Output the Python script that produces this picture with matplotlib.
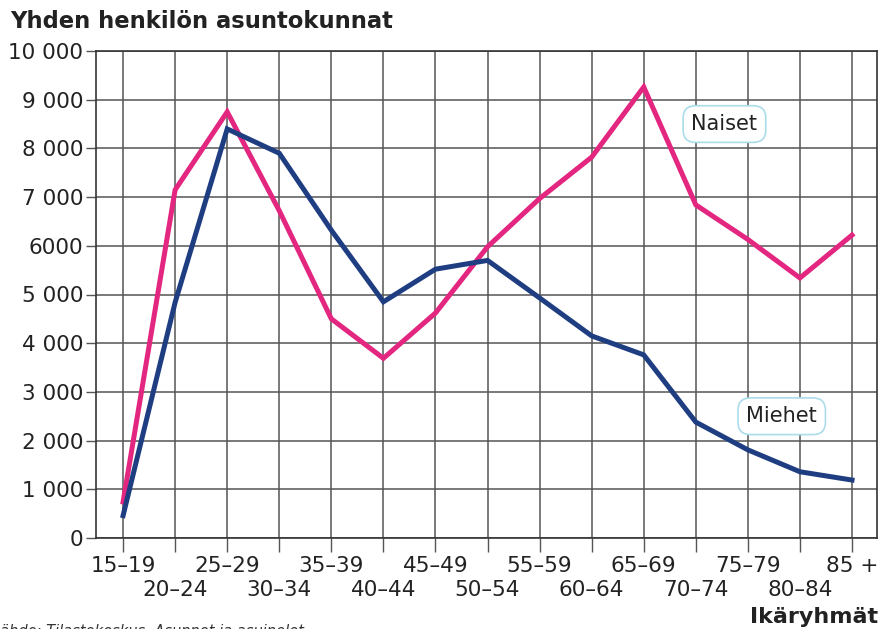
import matplotlib

matplotlib.use("Agg")
import matplotlib.pyplot as plt
import numpy as np

# Ikäryhmät ja yhden henkilön asuntokunnat
age_groups = ["15–19", "20–24", "25–29", "30–34", "35–39", "40–44", "45–49",
              "50–54", "55–59", "60–64", "65–69", "70–74", "75–79", "80–84", "85 +"]
naiset = [740, 7150, 8750, 6720, 4500, 3690, 4620, 5980, 6970, 7820,
          9260, 6840, 6130, 5340, 6220]
miehet = [460, 4840, 8400, 7900, 6320, 4850, 5520, 5700, 4930, 4150,
          3760, 2380, 1810, 1360, 1190]
y_ticks = [0, 1000, 2000, 3000, 4000, 5000, 6000, 7000, 8000, 9000, 10000]
y_labels = ["0", "1 000", "2 000", "3 000", "4 000", "5 000", "6000",
            "7 000", "8 000", "9 000", "10 000"]

PINK = "#e3267f"
BLUE = "#1f3e82"
GRID = "#555555"
TEXT = "#222222"

plt.rcParams["font.family"] = "DejaVu Sans"

fig = plt.figure(figsize=(8.82, 6.29), dpi=100)
ax = fig.add_axes([96 / 882, 1 - 538 / 629, (877 - 96) / 882, (538 - 51) / 629])

x = np.arange(len(age_groups))
ax.plot(x, naiset, color=PINK, lw=3.6, solid_joinstyle="miter", zorder=3)
ax.plot(x, miehet, color=BLUE, lw=3.6, solid_joinstyle="miter", zorder=3)

ax.set_xlim(-0.52, 14.48)
ax.set_ylim(0, 10000)

ax.set_yticks(y_ticks)
ax.set_yticklabels(y_labels, fontsize=15.5, color=TEXT)

# two rows of age labels: even groups on top row, odd groups below
ax.set_xticks(x[::2])
ax.set_xticklabels(age_groups[::2], fontsize=15.5, color=TEXT)
ax.set_xticks(x[1::2], minor=True)
ax.set_xticklabels(age_groups[1::2], minor=True, fontsize=15.5, color=TEXT)
ax.tick_params(axis="x", which="both", length=10, width=1, color=GRID)
ax.tick_params(axis="x", which="major", pad=3)
ax.tick_params(axis="x", which="minor", pad=20)
ax.tick_params(axis="y", length=7, width=1, color=GRID, pad=2)

ax.grid(True, which="both", axis="x", color=GRID, lw=1.1)
ax.grid(True, axis="y", color=GRID, lw=1.1)
ax.set_axisbelow(True)
for s in ax.spines.values():
    s.set_color("#333333")
    s.set_linewidth(1.2)

box = dict(boxstyle="round,pad=0.4,rounding_size=0.6", fc="white",
           ec="#aadcea", lw=1.2)
ax.text(11.55, 8500, "Naiset", fontsize=15, color=TEXT, ha="center",
        va="center", bbox=box, zorder=4)
ax.text(12.65, 2500, "Miehet", fontsize=15, color=TEXT, ha="center",
        va="center", bbox=box, zorder=4)

fig.text(10 / 882, 1 - 22 / 629, "Yhden henkilön asuntokunnat", fontsize=16.3,
         fontweight="bold", color=TEXT, ha="left", va="center")
fig.text(878 / 882, 1 - 617 / 629, "Ikäryhmät", fontsize=16,
         fontweight="bold", color=TEXT, ha="right", va="center")
fig.text(-8 / 882, 1 - 632 / 629, "Lähde: Tilastokeskus, Asunnot ja asuinolot",
         fontsize=10.5, style="italic", color="#333333", ha="left", va="center")

fig.savefig("out.png", dpi=100)
